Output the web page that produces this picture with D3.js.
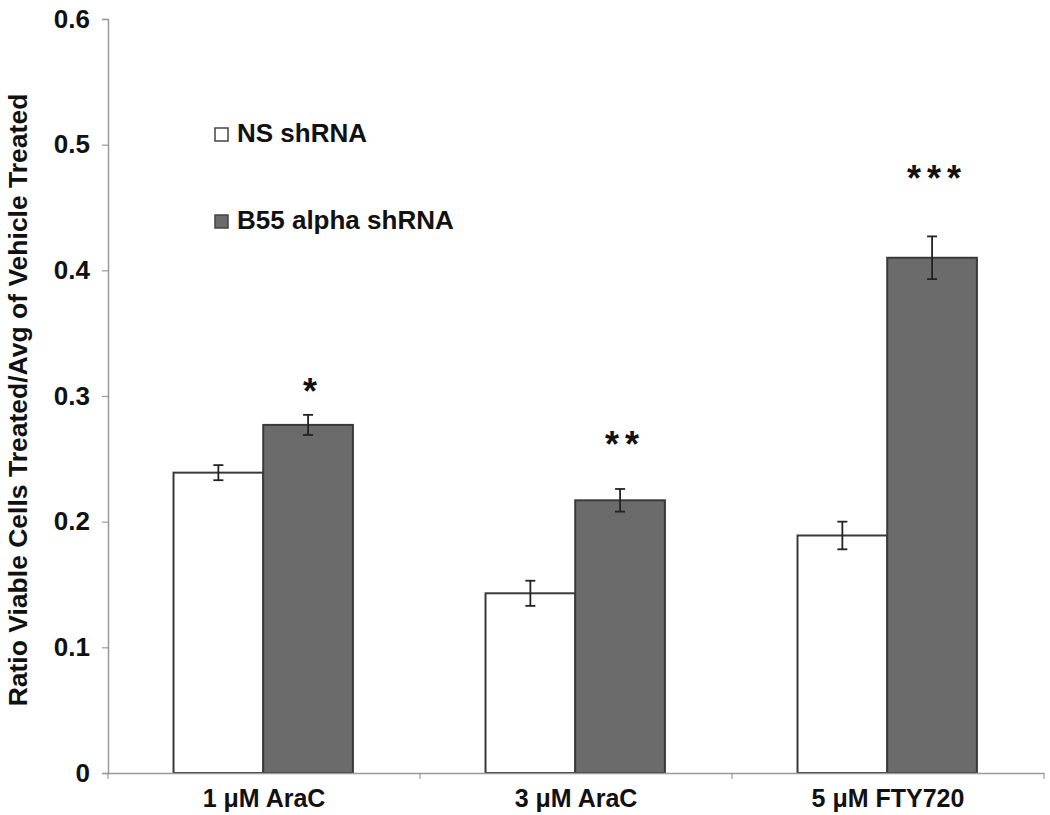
<!DOCTYPE html>
<html>
<head>
<meta charset="utf-8">
<script src="https://cdn.jsdelivr.net/npm/d3@7"></script>
<style>
  body { margin: 0; background: #fff; }
  svg text { font-family: "Liberation Sans", Arial, sans-serif; font-weight: bold; fill: #111; }
</style>
</head>
<body>
<div id="chart"></div>
<script>
// viability ratios
const categories = ["1 \u03bcM AraC", "3 \u03bcM AraC", "5 \u03bcM FTY720"];
const seriesNames = ["NS shRNA", "B55 alpha shRNA"];
const nsValues = [0.239, 0.143, 0.189];
const nsErrors = [0.006, 0.010, 0.011];
const b55Values = [0.277, 0.217, 0.410];
const b55Errors = [0.008, 0.009, 0.017];
const stars = ["*", "**", "***"];
const starLevels = [0.306, 0.264, 0.476];   // where the significance marks sit (data units)
const yTicks = [0, 0.1, 0.2, 0.3, 0.4, 0.5, 0.6];

const COLORS = ["#ffffff", "#6b6b6b"];

const width = 1050, height = 815;
const margin = { top: 19, right: 6, bottom: 42, left: 108 };
const innerW = width - margin.left - margin.right;
const innerH = height - margin.top - margin.bottom;

const svg = d3.select("#chart")
    .append("svg")
    .attr("width", width)
    .attr("height", height);

const g = svg.append("g")
    .attr("transform", `translate(${margin.left},${margin.top})`);

const x = d3.scaleBand()
    .domain(categories)
    .range([0, innerW]);

const xSub = d3.scaleBand()
    .domain(seriesNames)
    .range([x.bandwidth() * 0.21, x.bandwidth() * 0.785]);

const y = d3.scaleLinear()
    .domain([0, 0.6])
    .range([innerH, 0]);

// y axis
const yAxis = g.append("g")
    .call(d3.axisLeft(y).tickValues(yTicks).tickFormat(d => d === 0 ? "0" : d3.format(".1f")(d)).tickSize(6).tickPadding(12));
yAxis.select(".domain").attr("stroke", "#999").attr("stroke-width", 1.5);
yAxis.selectAll(".tick line").attr("stroke", "#999").attr("stroke-width", 1.2);
yAxis.selectAll(".tick text").style("font-size", "26px").attr("fill", "#111");

// data rows
const rows = categories.map((c, i) => ({
    cat: c,
    bars: [
        { key: seriesNames[0], value: nsValues[i], err: nsErrors[i] },
        { key: seriesNames[1], value: b55Values[i], err: b55Errors[i] }
    ],
    star: stars[i],
    starLevel: starLevels[i]
}));

const groups = g.selectAll(".grp")
    .data(rows)
    .enter()
    .append("g")
    .attr("class", "grp")
    .attr("transform", d => `translate(${x(d.cat)},0)`);

groups.selectAll("rect")
    .data(d => d.bars)
    .enter()
    .append("rect")
    .attr("x", d => xSub(d.key))
    .attr("y", d => y(d.value))
    .attr("width", xSub.bandwidth())
    .attr("height", d => innerH - y(d.value))
    .attr("fill", (d, i) => COLORS[i])
    .attr("stroke", "#3a3a3a")
    .attr("stroke-width", 2);

// error bars
const eb = groups.selectAll(".err")
    .data(d => d.bars)
    .enter()
    .append("g")
    .attr("class", "err")
    .attr("stroke", "#222")
    .attr("stroke-width", 1.8);

eb.append("line")
    .attr("x1", d => xSub(d.key) + xSub.bandwidth() / 2)
    .attr("x2", d => xSub(d.key) + xSub.bandwidth() / 2)
    .attr("y1", d => y(d.value + d.err))
    .attr("y2", d => y(d.value - d.err));
eb.append("line")
    .attr("x1", d => xSub(d.key) + xSub.bandwidth() / 2 - 5)
    .attr("x2", d => xSub(d.key) + xSub.bandwidth() / 2 + 5)
    .attr("y1", d => y(d.value + d.err))
    .attr("y2", d => y(d.value + d.err));
eb.append("line")
    .attr("x1", d => xSub(d.key) + xSub.bandwidth() / 2 - 5)
    .attr("x2", d => xSub(d.key) + xSub.bandwidth() / 2 + 5)
    .attr("y1", d => y(d.value - d.err))
    .attr("y2", d => y(d.value - d.err));

// significance stars (trailing letter-spacing offset compensated)
groups.append("text")
    .attr("x", xSub(seriesNames[1]) + xSub.bandwidth() / 2 + 5)
    .attr("y", d => y(d.starLevel) + 16)
    .attr("text-anchor", "middle")
    .style("font-size", "36px")
    .style("letter-spacing", "6px")
    .text(d => d.star);

// x axis
const xAxis = g.append("g")
    .attr("transform", `translate(0,${innerH})`)
    .call(d3.axisBottom(x).tickSize(0).tickPadding(16));
xAxis.select(".domain").attr("stroke", "#999").attr("stroke-width", 1.5);
xAxis.selectAll(".tick text").style("font-size", "25px").attr("fill", "#111");
// category boundary ticks
xAxis.selectAll(".bound")
    .data([0, 1, 2, 3])
    .enter()
    .append("line")
    .attr("x1", d => d * x.step())
    .attr("x2", d => d * x.step())
    .attr("y1", 0)
    .attr("y2", 6)
    .attr("stroke", "#999")
    .attr("stroke-width", 1.2);

// y axis label
svg.append("text")
    .attr("transform", "translate(27,400) rotate(-90)")
    .attr("text-anchor", "middle")
    .style("font-size", "26.5px")
    .text("Ratio Viable Cells Treated/Avg of Vehicle Treated");

// legend
const legend = svg.append("g")
    .attr("transform", "translate(215,128)");
const items = legend.selectAll("g")
    .data(seriesNames)
    .enter()
    .append("g")
    .attr("transform", (d, i) => `translate(0,${i * 87})`);
items.append("rect")
    .attr("width", 13)
    .attr("height", 13)
    .attr("fill", (d, i) => COLORS[i])
    .attr("stroke", "#444")
    .attr("stroke-width", 1.5);
items.append("text")
    .attr("x", 22)
    .attr("y", 14)
    .style("font-size", "26px")
    .text(d => d);
</script>
</body>
</html>
